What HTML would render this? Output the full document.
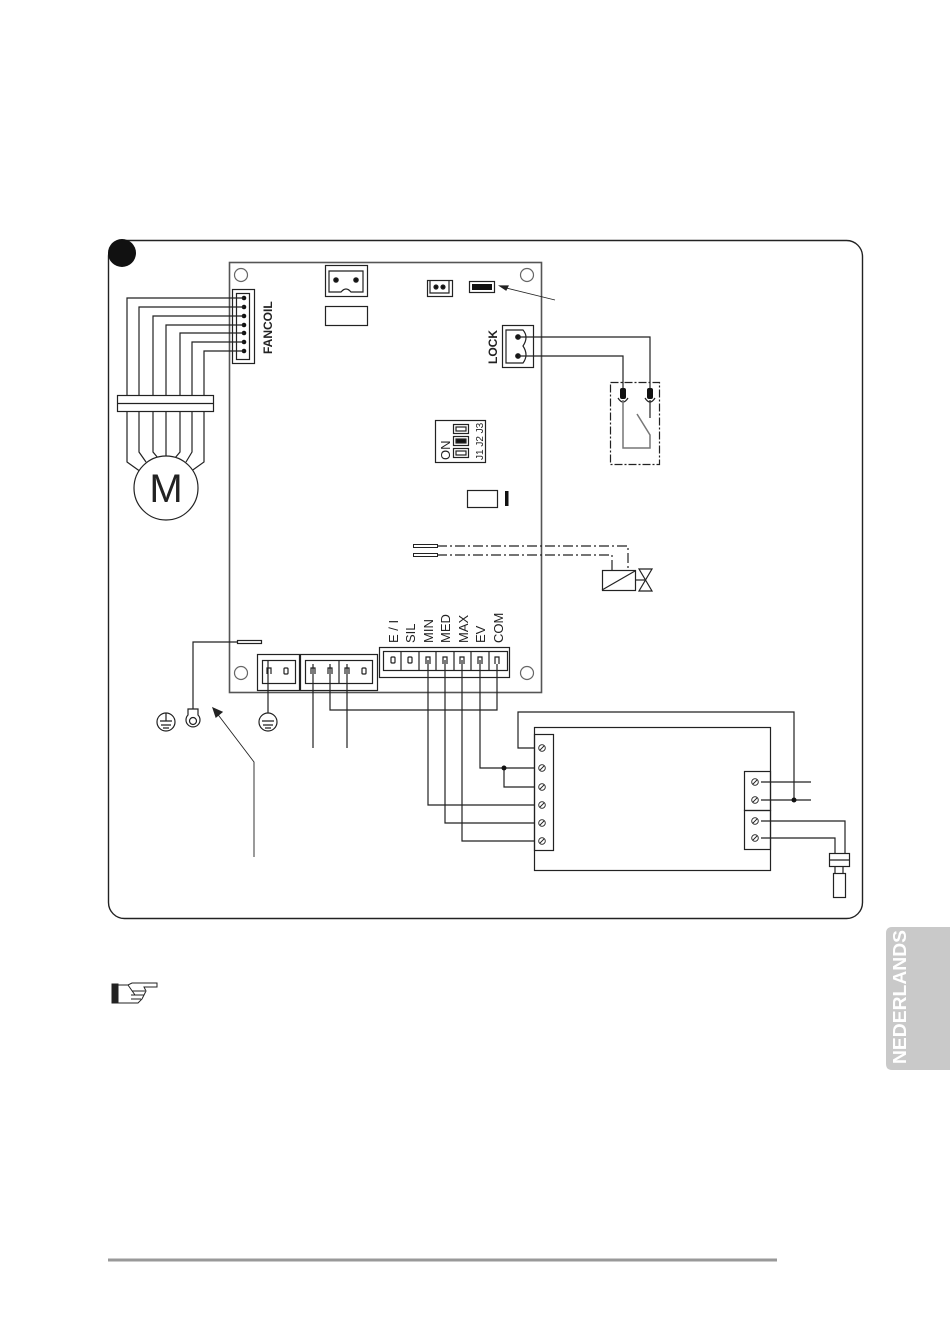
<!DOCTYPE html>
<html><head><meta charset="utf-8"><style>
html,body{margin:0;padding:0;background:#fff}
body{width:950px;height:1326px;position:relative;overflow:hidden;font-family:"Liberation Sans",sans-serif}
svg{position:absolute;left:0;top:0}
</style></head><body>
<svg width="950" height="1326" viewBox="0 0 950 1326" xmlns="http://www.w3.org/2000/svg" font-family="Liberation Sans, sans-serif">
<g fill="none" stroke="#222" stroke-width="1.2">
<rect x="108.5" y="240.5" width="754" height="678" rx="16" stroke-width="1.4"/>
<circle cx="122" cy="253" r="14" fill="#111" stroke="none"/>
<rect x="229.5" y="262.5" width="312" height="430" stroke="#555" stroke-width="1.6"/>
<circle cx="241" cy="275" r="6.5" stroke="#666"/><circle cx="527" cy="275" r="6.5" stroke="#666"/>
<circle cx="241" cy="673" r="6.5" stroke="#666"/><circle cx="527" cy="673" r="6.5" stroke="#666"/>
<rect x="325.5" y="265.5" width="42" height="31"/>
<path d="M329 271 V292 H341 Q346 286 351 292 H363 V271 Z"/>
<circle cx="336" cy="280" r="2.2" fill="#111"/><circle cx="356" cy="280" r="2.2" fill="#111"/>
<rect x="325.5" y="306.5" width="42" height="19"/>
<rect x="427.5" y="280.5" width="25" height="16"/>
<path d="M430 281 V293 H449 V281"/>
<circle cx="436" cy="287" r="2" fill="#111"/><circle cx="443" cy="287" r="2" fill="#111"/>
<rect x="469.5" y="281.5" width="25" height="11"/>
<rect x="472" y="284" width="20" height="6" fill="#111" stroke="none"/>
<line x1="555" y1="300" x2="502" y2="287" stroke-width="0.8"/>
<path d="M500 286 L508 286 L506 290 Z" fill="#222"/>
<rect x="232.5" y="289.5" width="22" height="74"/>
<rect x="236.5" y="293.5" width="13" height="66"/>
<g fill="#111" stroke="none">
<circle cx="244" cy="298" r="2.3"/><circle cx="244" cy="307" r="2.3"/><circle cx="244" cy="316" r="2.3"/>
<circle cx="244" cy="325" r="2.3"/><circle cx="244" cy="333" r="2.3"/><circle cx="244" cy="342" r="2.3"/><circle cx="244" cy="351" r="2.3"/>
</g>
<path d="M244 298 H127 V462 L141 472"/>
<path d="M244 307 H139 V452 L146 462"/>
<path d="M244 316 H153 V452 L158 458"/>
<path d="M244 325 H166 V456"/>
<path d="M244 333 H180 V452 L175 458"/>
<path d="M244 342 H192 V452 L186 462"/>
<path d="M244 351 H204 V462 L190 472"/>
<rect x="117.5" y="395.5" width="96" height="16" fill="#fff"/>
<line x1="117" y1="403.5" x2="213" y2="403.5"/>
<circle cx="166" cy="488" r="32" fill="#fff"/>
<rect x="502.5" y="325.5" width="31" height="42"/>
<path d="M506 330 H523 Q529 337 523 346 Q529 355 523 363 H506 Z"/>
<circle cx="518" cy="337" r="2.3" fill="#111"/><circle cx="518" cy="356" r="2.3" fill="#111"/>
<path d="M518 337 H650 V388"/>
<path d="M518 356 H623 V388"/>
<rect x="610.5" y="382.5" width="49" height="82" stroke-dasharray="8,2,2,2"/>
<rect x="620" y="388" width="6" height="11" rx="2" fill="#111" stroke="none"/>
<rect x="647" y="388" width="6" height="11" rx="2" fill="#111" stroke="none"/>
<path d="M618 398 Q623 406 628 398 M645 398 Q650 406 655 398"/>
<path d="M623 400 V448 H650 V435 L637 414" stroke="#777" stroke-width="1.5"/>
<path d="M650 400 V418"/>
<!-- DIP -->
<rect x="435.5" y="420.5" width="50" height="42"/>
<rect x="453.5" y="424.5" width="15" height="9"/><rect x="456" y="427" width="10" height="4"/>
<rect x="453.5" y="436.5" width="15" height="9"/><rect x="456" y="439" width="10" height="4" fill="#111"/>
<rect x="453.5" y="448.5" width="15" height="9"/><rect x="456" y="451" width="10" height="4"/>
<rect x="467.5" y="490.5" width="30" height="17"/>
<rect x="505" y="491" width="3.5" height="15" fill="#111" stroke="none"/>
<rect x="413.5" y="544.5" width="24" height="3" stroke-width="1"/>
<rect x="413.5" y="553.5" width="24" height="3" stroke-width="1"/>
<path d="M437 546 H628 V570" stroke-dasharray="10,3,2,3"/>
<path d="M437 555 H612 V570" stroke-dasharray="10,3,2,3"/>
<rect x="602.5" y="570.5" width="33" height="20"/>
<line x1="602" y1="590" x2="635" y2="571"/>
<path d="M639 569 H652 L639 591 H652 Z"/>
<line x1="635" y1="580" x2="645" y2="580"/>
<rect x="257.5" y="654.5" width="42" height="36"/>
<rect x="262.5" y="660.5" width="33" height="23"/>
<path d="M267 674 V668 H271 V674"/><rect x="284" y="668" width="4" height="6" rx="1"/>
<rect x="300.5" y="654.5" width="77" height="36"/>
<rect x="305.5" y="660.5" width="67" height="23"/>
<line x1="339" y1="660" x2="339" y2="683"/>
<path d="M311 674 V668 H315 V674 M328 674 V668 H332 V674 M345 674 V668 H349 V674"/><rect x="362" y="668" width="4" height="6" rx="1"/>
<rect x="379.5" y="647.5" width="130" height="30"/>
<rect x="383.5" y="651.5" width="124" height="19"/>
<path d="M401 651 V671 M419 651 V671 M436 651 V671 M454 651 V671 M471 651 V671 M489 651 V671"/>
<rect x="391" y="657" width="4" height="6" rx="1"/><rect x="408" y="657" width="4" height="6" rx="1"/>
<path d="M426 664 V657 H430 V664 M443 664 V657 H447 V664 M460 664 V657 H464 V664 M478 664 V657 H482 V664 M495 664 V657 H499 V664"/>
<rect x="237.5" y="640.5" width="24" height="3"/>
<path d="M237 642 H193 V709"/>
<path d="M188 709 H198 V715 A7 7 0 1 1 188 715 Z"/><circle cx="193" cy="721" r="3.5"/>
<circle cx="166" cy="722" r="9"/><path d="M166 713 V721 M160 721 H172 M161 725 H171 M163 728 H169"/>
<path d="M268 661 V713"/>
<circle cx="268" cy="722" r="9"/><path d="M262 721 H274 M263 725 H273 M265 728 H271"/>
<path d="M313 664 V748"/>
<path d="M330 664 V710 H497 V664"/>
<path d="M347 664 V748"/>
<path d="M428 660 V805 H534"/>
<path d="M445 660 V823 H534"/>
<path d="M462 660 V841 H534"/>
<path d="M480 660 V768 H534"/>
<path d="M504 768 V787 H534"/>
<circle cx="504" cy="768" r="2.5" fill="#111" stroke="none"/>
<rect x="534.5" y="727.5" width="236" height="143"/>
<rect x="534.5" y="734.5" width="19" height="116"/>
<path d="M534 748 H518 V712 H794 V800"/>
<g stroke-width="0.9">
<circle cx="542" cy="748" r="3.3"/><circle cx="542" cy="768" r="3.3"/><circle cx="542" cy="787" r="3.3"/>
<circle cx="542" cy="805" r="3.3"/><circle cx="542" cy="823" r="3.3"/><circle cx="542" cy="841" r="3.3"/>
<path d="M540 750 L544 746 M540 770 L544 766 M540 789 L544 785 M540 807 L544 803 M540 825 L544 821 M540 843 L544 839"/>
<circle cx="755" cy="782" r="3.3"/><circle cx="755" cy="800" r="3.3"/><circle cx="755" cy="821" r="3.3"/><circle cx="755" cy="838" r="3.3"/>
<path d="M753 784 L757 780 M753 802 L757 798 M753 823 L757 819 M753 840 L757 836"/>
</g>
<rect x="744.5" y="771.5" width="26" height="39"/>
<rect x="744.5" y="810.5" width="26" height="39"/>
<path d="M761 782 H811 M761 800 H811"/>
<circle cx="794" cy="800" r="2.5" fill="#111" stroke="none"/>
<path d="M761 821 H845 V853 M761 838 H835 V853"/>
<rect x="829.5" y="853.5" width="20" height="13"/><line x1="829" y1="860" x2="849" y2="860"/>
<path d="M835 866 V873 M843 866 V873"/>
<rect x="833.5" y="873.5" width="12" height="24"/>
<path d="M254 857 V762 L216 712" stroke-width="0.9"/>
<path d="M213 708 L222 712 L216 717 Z" fill="#222"/>
</g>
<text x="166" y="502" font-size="40" text-anchor="middle" fill="#222">M</text>
<text transform="translate(272,354) rotate(-90)" font-size="12" font-weight="bold" fill="#222">FANCOIL</text>
<text transform="translate(497,364) rotate(-90)" font-size="12" font-weight="bold" fill="#222">LOCK</text>
<text transform="translate(450,460) rotate(-90)" font-size="13" fill="#222">ON</text>
<text transform="translate(483,460) rotate(-90)" font-size="10" fill="#222">J1 J2 J3</text>
<g font-size="13" fill="#222">
<text transform="translate(398,643) rotate(-90)">E / I</text>
<text transform="translate(415,643) rotate(-90)">SIL</text>
<text transform="translate(433,643) rotate(-90)">MIN</text>
<text transform="translate(450,643) rotate(-90)">MED</text>
<text transform="translate(468,643) rotate(-90)">MAX</text>
<text transform="translate(485,643) rotate(-90)">EV</text>
<text transform="translate(503,643) rotate(-90)">COM</text>
</g>
<g stroke="#222" stroke-width="1" fill="#fff">
<rect x="112" y="984" width="6" height="19" fill="#222"/>
<path d="M118 985 H128 L132 983 H157 V987 H144 L146 991 L144 995 L142 999 L138 1003 H118 Z"/>
<path d="M128 985 L135 995 M132 991 H145 M131 995 H144 M131 999 H141"/>
</g>
<path d="M892 927 H950 V1070 H892 Q886 1070 886 1064 V933 Q886 927 892 927 Z" fill="#c9c9c9"/>
<text transform="translate(906,1064) rotate(-90)" font-size="18" font-weight="bold" fill="#fff" textLength="134" lengthAdjust="spacingAndGlyphs">NEDERLANDS</text>
<line x1="108" y1="1260" x2="777" y2="1260" stroke="#999" stroke-width="3"/>
</svg>
</body></html>
